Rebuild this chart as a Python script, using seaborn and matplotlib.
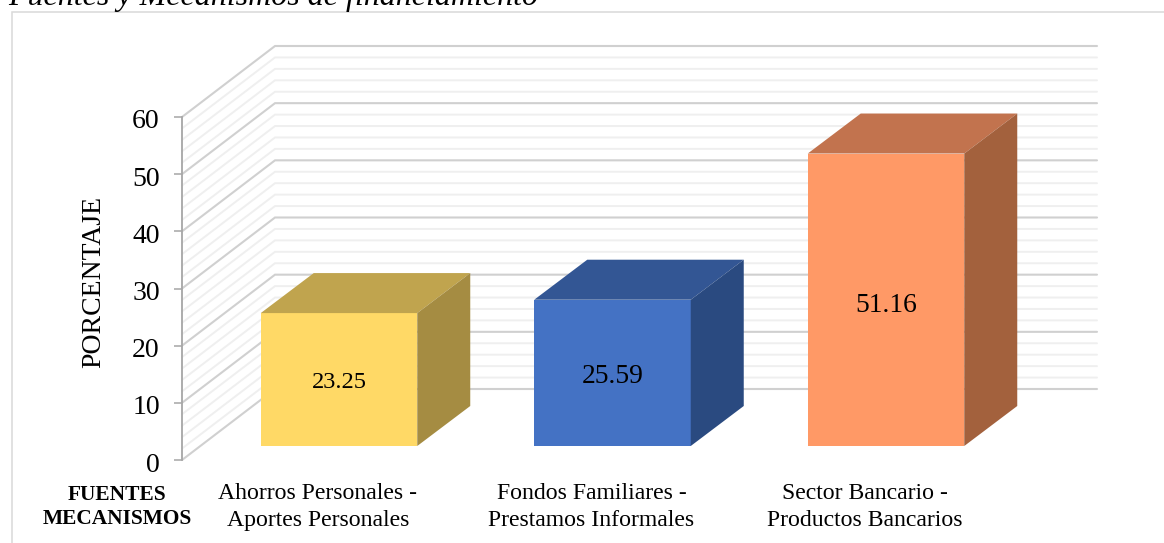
import matplotlib
matplotlib.use('Agg')
import matplotlib.pyplot as plt
import matplotlib.transforms as mtrans
from matplotlib.patches import Polygon, Rectangle
import pandas as pd
import seaborn as sns

categories = ['Ahorros Personales -\nAportes Personales',
              'Fondos Familiares -\nPrestamos Informales',
              'Sector Bancario -\nProductos Bancarios']
values = [23.25, 25.59, 51.16]
front_colors = ['#FFD966', '#4472C4', '#FF9966']
top_colors = ['#C0A44E', '#335694', '#C2734E']
side_colors = ['#A58C42', '#2A4A80', '#A3613D']
y_ticks = [0, 10, 20, 30, 40, 50, 60]
minor_ticks = list(range(0, 61, 2))

W, H = 1164, 543
sns.set_theme(style='white')
plt.rcParams['font.family'] = ['Liberation Serif', 'DejaVu Serif']

fig = plt.figure(figsize=(W / 100, H / 100), dpi=100)

# axes box in pixels, value 0 at y=460 and 60 at y=117
left, right, bottom, top = 182, 1097, 460, 40
ax = fig.add_axes([left / W, 1 - bottom / H, (right - left) / W, (bottom - top) / H])
ax.patch.set_alpha(0)

df = pd.DataFrame({'cat': categories, 'val': values})
sns.barplot(data=df, x='cat', y='val', hue='cat', palette=front_colors, legend=False,
            width=156.5 / 273.5, saturation=1, linewidth=0, ax=ax, zorder=3)

px_y = 60 / (460 - 117)
px_x = 1 / 273.5
ax.set_xlim((left - 339) * px_x, (right - 339) * px_x)
ax.set_ylim(0, (bottom - top) * px_y)
x0 = ax.get_xlim()[0]
x1 = ax.get_xlim()[1]

# wall depth and bar depth, pixels converted to data units
wall_dx, wall_dy = 93 * px_x, 71 * px_y
bar_dx, bar_dy = 53 * px_x, 40 * px_y
floor = 14 * px_y

for v in minor_ticks:
    major = v in y_ticks
    col = '#D0D0D0' if major else '#EFEFEF'
    lw = 1.5 if major else 1.4
    ax.plot([x0, x0 + wall_dx, x1], [v, v + wall_dy, v + wall_dy], color=col, lw=lw,
            zorder=2 if major else 1, solid_joinstyle='miter', clip_on=False)

bars = [p for p in ax.patches if p.get_height() > 0]
label_sizes = [17.6, 19.8, 19.8]
label_drop = [3, 4, 6]
for p, v, tc, sc, fs, drop in zip(bars, values, top_colors, side_colors, label_sizes, label_drop):
    p.set_y(floor)
    xa, xb = p.get_x(), p.get_x() + p.get_width()
    yb, yt = floor, floor + v
    ax.add_patch(Polygon([(xa, yt), (xb, yt), (xb + bar_dx, yt + bar_dy), (xa + bar_dx, yt + bar_dy)],
                         fc=tc, ec='none', zorder=3))
    ax.add_patch(Polygon([(xb, yb), (xb + bar_dx, yb + bar_dy), (xb + bar_dx, yt + bar_dy), (xb, yt)],
                         fc=sc, ec='none', zorder=3))
    ax.text((xa + xb) / 2, floor + v / 2 - drop * px_y, f'{v:.2f}', ha='center', va='center',
            fontsize=fs, color='black', zorder=5)

for s in ['top', 'right', 'bottom']:
    ax.spines[s].set_visible(False)
ax.spines['left'].set_bounds(0, 60)
ax.spines['left'].set_color('#A6A6A6')
ax.spines['left'].set_linewidth(1.3)
ax.set_yticks(y_ticks)
ax.tick_params(axis='y', left=True, length=5.5, width=1.1, color='#A6A6A6', labelsize=20, pad=10.5, labelcolor='black')
down = mtrans.ScaledTranslation(0, -2 / 100, fig.dpi_scale_trans)
for lab in ax.get_yticklabels():
    lab.set_transform(lab.get_transform() + down)
ax.set_xlabel('')
ax.set_ylabel('PORCENTAJE', fontsize=20, color='black', va='center')
ax.yaxis.set_label_coords((94 - left) / (right - left), 1 - (282 - top) / (bottom - top))

ax.tick_params(axis='x', bottom=False, labelsize=17.1, labelcolor='black', pad=0)
shift = mtrans.ScaledTranslation(-21 / 100, -15 / 100, fig.dpi_scale_trans)
for lab in ax.get_xticklabels():
    lab.set_transform(lab.get_transform() + shift)
    lab.set_linespacing(1.38)
    lab.set_ha('center')

# frame runs off the right and bottom of the picture
fig.add_artist(Rectangle((11.5 / W, -0.02), 1.02, 1 - 12 / H + 0.02,
                         transform=fig.transFigure, fc='none', ec='#D9D9D9', lw=1.1))
fig.text(8 / W, 1 - 5 / H, 'Fuentes y Mecanismos de financiamiento', style='italic', fontsize=23,
         ha='left', va='baseline', color='black')
fig.text(117 / W, 1 - 495 / H, 'FUENTES', fontsize=15.4, fontweight='bold', ha='center', va='center', color='black')
fig.text(117 / W, 1 - 519 / H, 'MECANISMOS', fontsize=15.4, fontweight='bold', ha='center', va='center', color='black')

fig.savefig('out.png', dpi=100)
